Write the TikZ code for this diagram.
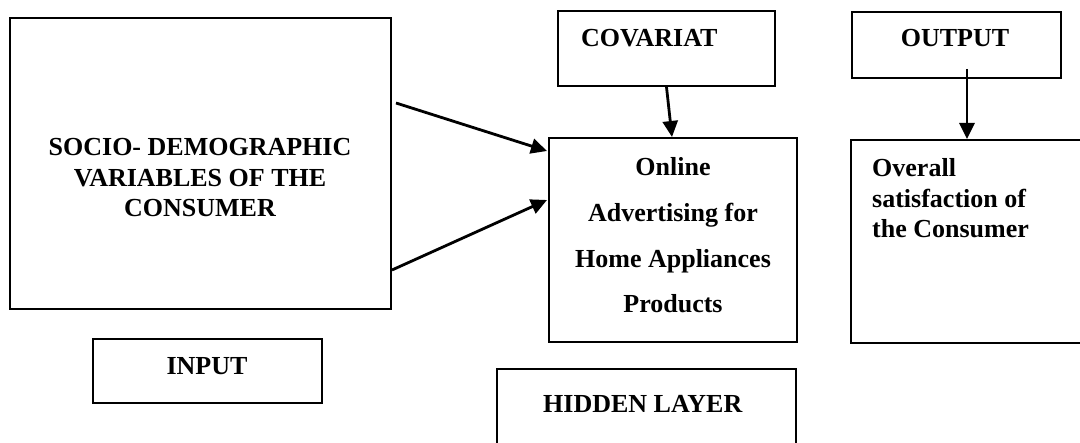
\documentclass[tikz,border=0pt]{standalone}
\usepackage{fontspec}
\setmainfont{Liberation Serif}
\usetikzlibrary{arrows.meta,calc}
\begin{document}
\begin{tikzpicture}[x=1pt,y=-1pt,
  box/.style={draw, line width=2pt, rectangle, inner sep=0pt},
  lbl/.style={font=\fontsize{26}{30.5}\selectfont\bfseries, inner sep=0pt},
  conn/.style={line width=2.8pt, -{Triangle[length=16pt,width=15pt]}}]
\clip (0,0) rectangle (1080,443);
\fill[white] (0,0) rectangle (1080,443);
% boxes
\node[box, minimum width=381pt, minimum height=291pt] (big) at (200.5,163.5) {};
\node[box, minimum width=229pt, minimum height=64pt] (input) at (207.5,371) {};
\node[box, minimum width=217pt, minimum height=75pt] (covar) at (666.5,48.5) {};
\node[box, minimum width=248pt, minimum height=204pt] (online) at (673,240) {};
\node[box, minimum width=209pt, minimum height=66pt] (output) at (956,45) {};
\node[box, minimum width=249pt, minimum height=203pt] (overall) at (975.5,241.5) {};
\node[box, minimum width=299pt, minimum height=101pt] (hidden) at (646.5,419.5) {};
% texts
\node[lbl, align=center, anchor=north] (tsocio) at (200,138.4) {SOCIO- DEMOGRAPHIC\\VARIABLES OF THE\\CONSUMER};
\node[lbl, anchor=base] (tinput) at (207,375) {INPUT};
\node[lbl, anchor=base west] (tcovar) at (581,47) {COVARIAT};
\node[lbl, anchor=base] (toutput) at (955,47) {OUTPUT};
\node[lbl, anchor=base west] (thidden) at (543,413) {HIDDEN LAYER};
\node[lbl, font=\fontsize{26}{45.7}\selectfont\bfseries, align=center, anchor=north] (tonline) at (673,157.4) {Online\\Advertising for\\Home Appliances\\Products};
\node[lbl, font=\fontsize{26}{30.5}\selectfont\bfseries, align=left, anchor=north west] (toverall) at (872,158.6) {Overall\\satisfaction of\\the Consumer};
% connectors
\coordinate (a1s) at (396,103);
\coordinate (a2s) at (392,270);
\coordinate (a1e) at ($(online.north west)+(-1,14)$);
\coordinate (a2e) at ($(online.north west)+(-1,63)$);
\coordinate (o1) at (967,69);
\coordinate (o2) at ($(overall.north west)+(117,0)$);
\coordinate (c2) at ($(online.north)+(-1,0)$);
\draw[conn] (a1s) -- (a1e);
\draw[conn] (a2s) -- (a2e);
\draw[conn] (covar.south) -- (c2);
\draw[conn] (o1) -- (o2);
\end{tikzpicture}
\end{document}
